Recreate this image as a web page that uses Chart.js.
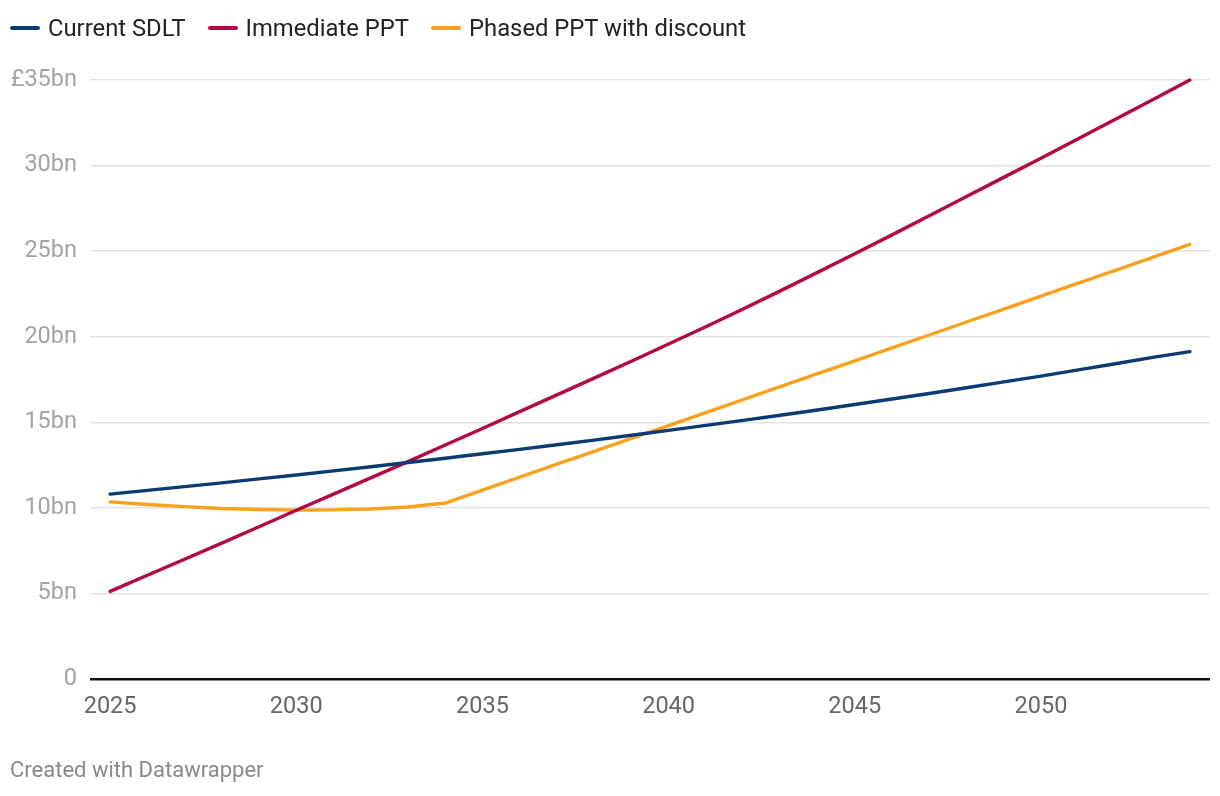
<!DOCTYPE html>
<html>
<head>
<meta charset="utf-8">
<script src="https://cdn.jsdelivr.net/npm/chart.js@4"></script>
<style>
  html, body { margin: 0; padding: 0; background: #fff; }
  body { width: 1220px; height: 796px; position: relative; overflow: hidden; font-family: Roboto, "Noto Sans", sans-serif; }
  #legend { position: absolute; left: 10px; top: 14px; display: flex; align-items: center; font-size: 23.8px; color: #222; white-space: nowrap; }
  .item { display: flex; align-items: center; margin-right: 22px; }
  .swatch { width: 30px; height: 4px; border-radius: 2px; margin-right: 8px; }
  #credit { position: absolute; left: 10px; top: 757px; font-size: 22px; color: #888; }
  #wrap { position: absolute; left: 0; top: 0; width: 1220px; height: 796px; }
</style>
</head>
<body>
<div id="wrap"><canvas id="c" width="1220" height="796"></canvas></div>
<div id="legend"></div>
<div id="credit">Created with Datawrapper</div>
<script>
const years = [2025,2026,2027,2028,2029,2030,2031,2032,2033,2034,2035,2036,2037,2038,2039,2040,2041,2042,2043,2044,2045,2046,2047,2048,2049,2050,2051,2052,2053,2054];
const currentSDLT = [10.8,11.02,11.24,11.46,11.69,11.92,12.16,12.4,12.65,12.9,13.16,13.42,13.69,13.96,14.24,14.53,14.82,15.11,15.41,15.72,16.04,16.36,16.68,17.02,17.36,17.7,18.06,18.42,18.79,19.13];
const immediatePPT = [5.12,6.06,7.0,7.94,8.9,9.86,10.8,11.75,12.7,13.67,14.64,15.62,16.6,17.58,18.57,19.57,20.58,21.62,22.68,23.76,24.85,25.95,27.07,28.19,29.31,30.43,31.57,32.71,33.85,35.0];
const phasedPPT = [10.35,10.2,10.07,9.96,9.9,9.87,9.88,9.93,10.05,10.28,11.04,11.79,12.55,13.3,14.06,14.81,15.57,16.32,17.08,17.84,18.59,19.35,20.1,20.86,21.61,22.37,23.13,23.88,24.64,25.39];
const seriesNames = ["Current SDLT", "Immediate PPT", "Phased PPT with discount"];
const seriesColors = ["#0b3b72", "#b5083f", "#f9a11b"];
const xTicks = [2025,2030,2035,2040,2045,2050];
const yTicks = [0,5,10,15,20,25,30,35];
const yTickLabels = ["0","5bn","10bn","15bn","20bn","25bn","30bn","£35bn"];

const seriesValues = [currentSDLT, immediatePPT, phasedPPT];

const legend = document.getElementById('legend');
seriesNames.forEach((n, i) => {
  const it = document.createElement('div'); it.className = 'item';
  const sw = document.createElement('div'); sw.className = 'swatch'; sw.style.background = seriesColors[i];
  const tx = document.createElement('span'); tx.textContent = n;
  it.appendChild(sw); it.appendChild(tx); legend.appendChild(it);
});

const datasets = seriesNames.map((n, i) => ({
  label: n,
  data: years.map((y, j) => ({x: y, y: seriesValues[i][j]})),
  borderColor: seriesColors[i],
  backgroundColor: seriesColors[i],
  borderWidth: 3.4,
  pointRadius: 0,
  tension: 0,
  borderCapStyle: 'round',
  borderJoinStyle: 'round',
  clip: false
}));

new Chart(document.getElementById('c'), {
  type: 'line',
  data: { datasets },
  options: {
    responsive: false,
    animation: false,
    events: [],
    layout: { padding: { left: 0, right: 10, top: 80, bottom: 0 } },
    plugins: { legend: { display: false }, tooltip: { enabled: false } },
    scales: {
      x: {
        type: 'linear',
        min: 2024.46,
        max: 2054.54,
        afterBuildTicks: (s) => { s.ticks = xTicks.map(v => ({value: v})); },
        afterFit: (s) => { s.height = 117; },
        grid: { display: false, drawTicks: false },
        border: { display: false },
        ticks: {
          padding: 14,
          color: '#666',
          font: { family: 'Roboto', size: 23.5 },
          maxRotation: 0,
          callback: (v) => String(v)
        }
      },
      y: {
        min: 0,
        max: 35,
        afterBuildTicks: (s) => { s.ticks = yTicks.map(v => ({value: v})); },
        afterFit: (s) => { s.width = 90; },
        border: { display: false },
        grid: {
          drawTicks: false,
          color: (c) => c.tick && c.tick.value === 0 ? '#111' : '#e3e3e3',
          lineWidth: (c) => c.tick && c.tick.value === 0 ? 2.5 : 1.5
        },
        ticks: {
          padding: 13,
          color: '#a3a3a3',
          font: { family: 'Roboto', size: 23.5 },
          callback: (v) => yTickLabels[yTicks.indexOf(v)]
        }
      }
    }
  }
});
</script>
</body>
</html>
